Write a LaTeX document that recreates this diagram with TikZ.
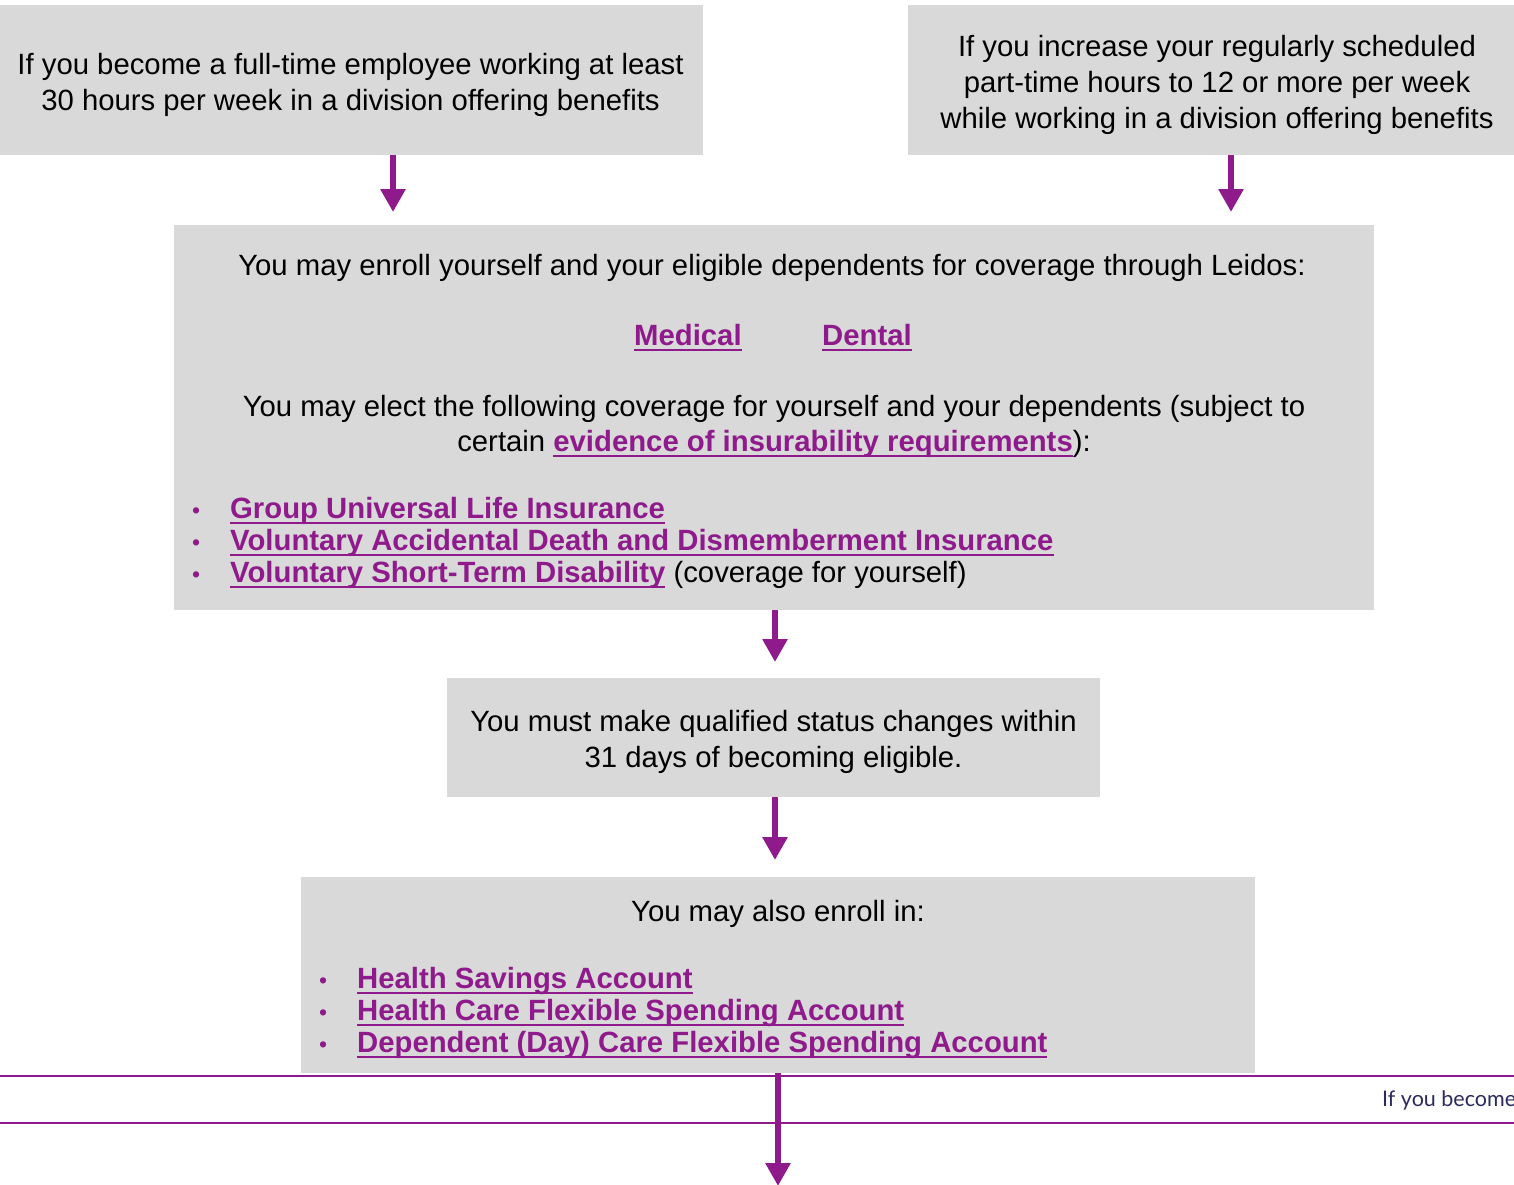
\documentclass[tikz,border=0pt]{standalone}
\usepackage{fontspec}
\setmainfont{Liberation Sans}
\newfontfamily\footfam{Lato}
\usetikzlibrary{arrows.meta}
\definecolor{lpurple}{HTML}{8F1A8C}
\definecolor{lgray}{HTML}{D9D9D9}
\definecolor{lnavy}{HTML}{2B2A5C}
\newsavebox\lnkbox
\newcommand{\lnk}[1]{\sbox\lnkbox{\color{lpurple}\bfseries #1}\rlap{\color{lpurple}\rule[-6pt]{\wd\lnkbox}{2.4pt}}\usebox\lnkbox}
\newcommand{\bul}{\textcolor{lpurple}{\fontsize{23}{23}\selectfont •}}
\begin{document}
\begin{tikzpicture}[x=1pt,y=-1pt,
  box/.style={fill=lgray, inner sep=0},
  btxt/.style={inner sep=0, align=center, font=\fontsize{29.3}{36}\selectfont},
  txt/.style={inner sep=0, font=\fontsize{29.3}{36}\selectfont},
  arr/.style={draw=lpurple, line width=6.5pt, -{Triangle[length=23pt,width=24pt]}},
  rule/.style={draw=lpurple, line width=2.2pt}]
\useasboundingbox (0,0) rectangle (1514,1184);
\clip (0,0) rectangle (1514,1184);
% boxes
\node[box, minimum width=705pt, minimum height=150pt] (a) at (350.5,80) {};
\node[btxt] (at) at (350.5,84.5)
  {If you become a full-time employee working at least\\30 hours per week in a division offering benefits};
\node[box, minimum width=618pt, minimum height=150pt] (b) at (1217,80) {};
\node[btxt] (bt) at (1217,84.5)
  {If you increase your regularly scheduled\\part-time hours to 12 or more per week\\while working in a division offering benefits};
\node[box, minimum width=1200pt, minimum height=385pt] (c) at (774,417.5) {};
\node[box, minimum width=653pt, minimum height=119pt] (d) at (773.5,737.5) {};
\node[btxt] (dt) at (773.5,741.5)
  {You must make qualified status changes within\\31 days of becoming eligible.};
\node[box, minimum width=954pt, minimum height=196pt] (e) at (778,975) {};
% box c contents
\node[txt, anchor=base] (c1) at (772,275) {You may enroll yourself and your eligible dependents for coverage through Leidos:};
\node[txt, anchor=base west] (med) at (634,345) {\lnk{Medical}};
\node[txt, anchor=base west] (den) at (822,345) {\lnk{Dental}};
\node[txt, anchor=base] (c2) at (774,416) {You may elect the following coverage for yourself and your dependents (subject to};
\node[txt, anchor=base] (c3) at (774,451) {certain \lnk{evidence of insurability requirements}):};
\node[txt, anchor=base west] (cb1) at (192,518) {\bul};
\node[txt, anchor=base west] (cb2) at (192,550) {\bul};
\node[txt, anchor=base west] (cb3) at (192,582) {\bul};
\node[txt, anchor=base west] (cl1) at (230,518) {\lnk{Group Universal Life Insurance}};
\node[txt, anchor=base west] (cl2) at (230,550) {\lnk{Voluntary Accidental Death and Dismemberment Insurance}};
\node[txt, anchor=base west] (cl3) at (230,582) {\lnk{Voluntary Short-Term Disability} (coverage for yourself)};
% box e contents
\node[txt, anchor=base] (e1) at (778,921) {You may also enroll in:};
\node[txt, anchor=base west] (eb1) at (319,988) {\bul};
\node[txt, anchor=base west] (eb2) at (319,1020) {\bul};
\node[txt, anchor=base west] (eb3) at (319,1052) {\bul};
\node[txt, anchor=base west] (el1) at (357,988) {\lnk{Health Savings Account}};
\node[txt, anchor=base west] (el2) at (357,1020) {\lnk{Health Care Flexible Spending Account}};
\node[txt, anchor=base west] (el3) at (357,1052) {\lnk{Dependent (Day) Care Flexible Spending Account}};
% footer rules and text
\coordinate (r1a) at (0,1076); \coordinate (r1b) at (1514,1076);
\coordinate (r2a) at (0,1123); \coordinate (r2b) at (1514,1123);
\draw[rule] (r1a) -- (r1b);
\draw[rule] (r2a) -- (r2b);
\node[inner sep=0, anchor=base west, font=\footfam\fontsize{21.5}{24}\selectfont, text=lnavy] (ft) at (1382,1106) {If you become};
% arrows
\coordinate (t1) at (393,212);
\coordinate (t2) at (1231,212);
\coordinate (t3) at (775,662);
\coordinate (t4) at (775,860);
\coordinate (t5) at (778,1186);
\draw[arr] (a.south -| t1) -- (t1);
\draw[arr] (b.south -| t2) -- (t2);
\draw[arr] (c.south -| t3) -- (t3);
\draw[arr] (d.south -| t4) -- (t4);
\draw[arr] (e.south -| t5) -- (t5);
\end{tikzpicture}
\end{document}
